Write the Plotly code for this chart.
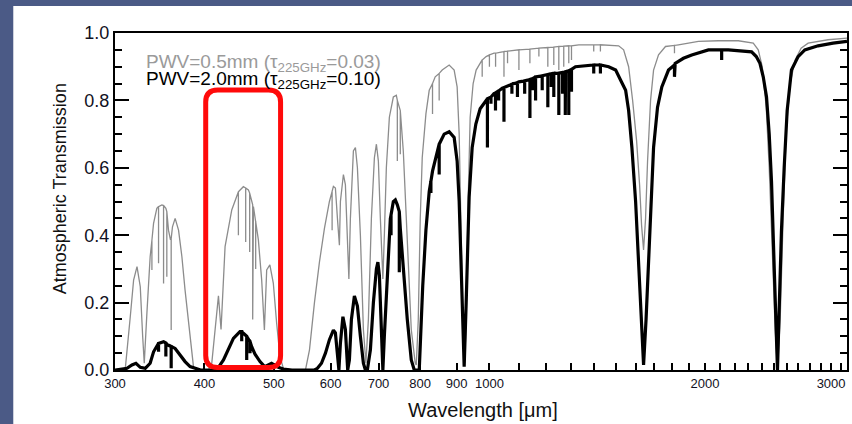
import math
import plotly.graph_objects as go

# ---- Atmospheric transmission, wavelength in micrometres ----
# Continuum envelope for PWV = 0.5 mm
PWV05_WL = [
    300.0, 310.1, 315.1, 318.5, 322.0, 325.4, 327.9, 329.6, 332.4, 335.9,
    339.6, 343.2, 348.8, 353.3, 356.3, 358.6, 360.9, 364.0, 368.0, 372.0,
    375.8, 381.3, 386.1, 390.0, 405.0, 409.5, 418.4, 421.9, 427.4, 436.7,
    446.1, 453.3, 460.7, 468.2, 475.7, 480.8, 485.0, 488.6, 493.6, 499.1,
    504.5, 509.9, 515.5, 530.0, 553.5, 560.7, 569.7, 578.9, 588.3, 597.8,
    605.5, 609.4, 613.4, 617.3, 619.3, 625.3, 629.3, 633.4, 636.4, 639.5,
    645.7, 649.9, 654.1, 660.4, 666.8, 672.2, 677.6, 684.2, 690.8, 695.3,
    699.7, 704.2, 709.9, 713.3, 717.9, 724.9, 734.2, 741.3, 748.4, 758.1,
    767.9, 777.8, 787.8, 790.4, 795.5, 800.6, 805.7, 815.3, 824.0, 840.0,
    859.1, 878.6, 892.8, 901.4, 907.3, 913.1, 919.0, 923.5, 928.0, 933.9,
    939.9, 949.0, 958.2, 973.7, 989.5, 1014.8, 1047.9, 1099.5, 1172.4, 1250.0,
    1332.8, 1421.1, 1515.2, 1539.7, 1564.6, 1584.8, 1605.2, 1620.7, 1631.1, 1641.6,
    1652.2, 1662.8, 1678.9, 1695.2, 1722.5, 1761.6, 1836.5, 1958.2, 2087.9, 2226.2,
    2335.9, 2373.6, 2404.3, 2435.3, 2458.8, 2482.6, 2506.6, 2525.1, 2547.1, 2571.7,
    2596.6, 2630.1, 2672.6, 2724.5, 2786.4, 2971.0, 3157.6,
]
PWV05_T = [
    0.0, 0.005, 0.158, 0.267, 0.307, 0.247, 0.10, 0.02, 0.168, 0.336,
    0.435, 0.48, 0.49, 0.48, 0.415, 0.386, 0.425, 0.45, 0.415, 0.336,
    0.237, 0.119, 0.01, 0.0, 0.0, 0.02, 0.22, 0.12, 0.366, 0.475,
    0.529, 0.544, 0.534, 0.485, 0.386, 0.267, 0.119, 0.297, 0.312, 0.258,
    0.139, 0.04, 0.005, 0.0, 0.0, 0.06, 0.20, 0.32, 0.42, 0.50,
    0.545, 0.54, 0.45, 0.37, 0.50, 0.58, 0.55, 0.35, 0.27, 0.45,
    0.65, 0.66, 0.60, 0.40, 0.12, 0.02, 0.15, 0.45, 0.63, 0.67,
    0.62, 0.45, 0.27, 0.40, 0.60, 0.75, 0.81, 0.815, 0.78, 0.65,
    0.40, 0.12, 0.02, 0.015, 0.15, 0.45, 0.63, 0.76, 0.83, 0.87,
    0.89, 0.905, 0.89, 0.84, 0.70, 0.40, 0.10, 0.02, 0.15, 0.50,
    0.75, 0.85, 0.89, 0.915, 0.93, 0.94, 0.945, 0.95, 0.955, 0.96,
    0.965, 0.965, 0.962, 0.95, 0.90, 0.80, 0.68, 0.55, 0.43, 0.356,
    0.45, 0.62, 0.80, 0.89, 0.935, 0.96, 0.965, 0.975, 0.977, 0.977,
    0.97, 0.95, 0.90, 0.78, 0.60, 0.35, 0.12, 0.0, 0.15, 0.45,
    0.71, 0.85, 0.92, 0.955, 0.97, 0.98, 0.985,
]
# Narrow absorption lines for PWV = 0.5 mm: centre, level beside line, level at line
PWV05_LINE_WL = [
    337.8, 345.1, 350.7, 354.4, 359.4, 446.1, 456.7, 462.6, 467.1, 471.6,
    603.0, 743.7, 750.8, 832.8, 850.8, 977.0, 1000.0, 1020.0, 1047.9, 1060.0,
    1099.5, 1139.0, 1172.4, 1206.6, 1230.0, 1250.0, 1270.0, 1290.7, 1302.0, 1398.5,
    1428.9, 1813.1,
]
PWV05_LINE_TOP = [
    0.385, 0.485, 0.488, 0.47, 0.39, 0.529, 0.54, 0.525, 0.49, 0.44,
    0.53, 0.80, 0.77, 0.85, 0.88, 0.92, 0.935, 0.94, 0.945, 0.946,
    0.95, 0.952, 0.955, 0.957, 0.958, 0.96, 0.961, 0.962, 0.962, 0.965,
    0.965, 0.963,
]
PWV05_LINE_DEPTH = [
    0.297, 0.317, 0.257, 0.277, 0.119, 0.40, 0.38, 0.35, 0.15, 0.30,
    0.415, 0.62, 0.64, 0.76, 0.80, 0.87, 0.90, 0.90, 0.87, 0.91,
    0.89, 0.91, 0.93, 0.90, 0.905, 0.89, 0.90, 0.91, 0.92, 0.945,
    0.945, 0.94,
]

# Continuum envelope for PWV = 2.0 mm
PWV20_WL = [
    300.0, 311.8, 316.8, 320.9, 325.4, 330.7, 335.9, 339.6, 345.1, 350.7,
    355.6, 364.0, 369.9, 375.8, 381.9, 388.1, 395.0, 410.0, 418.4, 425.2,
    432.1, 439.0, 448.4, 453.3, 461.6, 465.6, 470.6, 478.2, 485.4, 496.3,
    507.2, 515.5, 530.0, 569.7, 575.2, 582.7, 590.2, 597.8, 605.5, 609.4,
    613.4, 616.3, 619.3, 624.3, 629.3, 634.0, 637.5, 641.6, 647.8, 654.1,
    660.4, 666.8, 671.1, 675.4, 682.0, 688.6, 695.3, 698.6, 702.0, 706.5,
    709.9, 713.3, 720.2, 727.2, 734.2, 738.9, 743.7, 750.8, 758.1, 767.9,
    777.8, 785.3, 798.0, 807.0, 815.3, 824.0, 832.8, 850.8, 864.6, 878.6,
    892.8, 901.4, 907.3, 913.1, 919.0, 922.0, 928.0, 936.9, 946.0, 957.3,
    970.6, 988.5, 1014.8, 1042.2, 1099.5, 1160.0, 1230.0, 1277.1, 1318.8, 1389.5,
    1467.4, 1500.7, 1525.0, 1549.6, 1564.6, 1581.2, 1600.1, 1615.5, 1628.5, 1641.6,
    1654.8, 1668.1, 1681.6, 1695.2, 1717.0, 1740.8, 1778.6, 1817.2, 1866.2, 1916.6,
    2022.0, 2155.9, 2323.2, 2358.5, 2386.6, 2412.0, 2437.6, 2458.8, 2477.0, 2490.5,
    2504.2, 2514.6, 2525.1, 2538.9, 2557.7, 2580.0, 2604.9, 2641.1, 2698.4, 2757.0,
    2877.2, 3019.1, 3157.6,
]
PWV20_T = [
    0.0, 0.005, 0.015, 0.02, 0.008, 0.005, 0.02, 0.054, 0.079, 0.084,
    0.074, 0.064, 0.045, 0.025, 0.01, 0.005, 0.0, 0.0, 0.008, 0.03,
    0.064, 0.094, 0.114, 0.109, 0.089, 0.069, 0.047, 0.025, 0.01, 0.02,
    0.008, 0.003, 0.0, 0.0, 0.005, 0.02, 0.05, 0.09, 0.118, 0.11,
    0.05, 0.0, 0.08, 0.158, 0.12, 0.0, 0.03, 0.15, 0.22, 0.19,
    0.10, 0.02, 0.0, 0.0, 0.06, 0.20, 0.30, 0.32, 0.28, 0.10,
    0.0, 0.10, 0.30, 0.45, 0.50, 0.505, 0.49, 0.42, 0.30, 0.15,
    0.03, 0.0, 0.0, 0.25, 0.415, 0.53, 0.59, 0.67, 0.70, 0.707,
    0.69, 0.62, 0.50, 0.30, 0.08, 0.01, 0.20, 0.514, 0.66, 0.73,
    0.775, 0.80, 0.82, 0.836, 0.855, 0.87, 0.88, 0.885, 0.90, 0.905,
    0.90, 0.89, 0.86, 0.83, 0.77, 0.66, 0.50, 0.317, 0.15, 0.015,
    0.15, 0.317, 0.50, 0.66, 0.78, 0.84, 0.89, 0.91, 0.925, 0.935,
    0.95, 0.95, 0.944, 0.93, 0.91, 0.87, 0.81, 0.70, 0.56, 0.40,
    0.22, 0.08, 0.0, 0.18, 0.415, 0.60, 0.77, 0.89, 0.93, 0.95,
    0.962, 0.97, 0.975,
]
# Narrow absorption lines for PWV = 2.0 mm
PWV20_LINE_WL = [
    345.1, 353.3, 359.4, 450.9, 458.2, 463.1, 728.8, 748.4, 828.5, 850.8,
    993.6, 1005.0, 1019.7, 1030.0, 1047.9, 1075.0, 1094.3, 1120.0, 1139.1, 1150.0,
    1160.0, 1185.0, 1206.6, 1220.0, 1230.0, 1250.0, 1265.0, 1276.3, 1290.7, 1302.0,
    1398.5, 1428.9, 1813.1, 2110.1,
]
PWV20_LINE_TOP = [
    0.079, 0.08, 0.07, 0.114, 0.10, 0.085, 0.46, 0.47, 0.56, 0.67,
    0.805, 0.81, 0.822, 0.828, 0.838, 0.848, 0.853, 0.858, 0.862, 0.865,
    0.87, 0.873, 0.877, 0.879, 0.88, 0.881, 0.883, 0.885, 0.888, 0.892,
    0.905, 0.905, 0.905, 0.95,
]
PWV20_LINE_DEPTH = [
    0.054, 0.04, 0.005, 0.085, 0.03, 0.05, 0.40, 0.29, 0.525, 0.58,
    0.66, 0.79, 0.77, 0.80, 0.737, 0.82, 0.81, 0.82, 0.748, 0.83,
    0.80, 0.83, 0.78, 0.84, 0.81, 0.757, 0.82, 0.757, 0.757, 0.826,
    0.88, 0.88, 0.87, 0.92,
]

# ---- Axes ----
X_RANGE = [300.0, 3157.6]
Y_RANGE = [0.0, 1.0]
X_MAJOR = [300, 400, 500, 600, 700, 800, 900, 1000, 2000, 3000]
X_MAJOR_LABELS = ["300", "400", "500", "600", "700", "800", "900", "1000", "2000", "3000"]
X_MINOR = [1100, 1200, 1300, 1400, 1500, 1600, 1700, 1800, 1900,
           2100, 2200, 2300, 2400, 2500, 2600, 2700, 2800, 2900, 3100]
Y_MAJOR = [0.0, 0.2, 0.4, 0.6, 0.8, 1.0]
Y_MAJOR_LABELS = ["0.0", "0.2", "0.4", "0.6", "0.8", "1.0"]
Y_MINOR = [0.05, 0.1, 0.15, 0.25, 0.3, 0.35, 0.45, 0.5, 0.55,
           0.65, 0.7, 0.75, 0.85, 0.9, 0.95]

# Highlighted 400-500 µm window (wavelength span, transmission span)
WINDOW_WL = [401.6, 510.9]
WINDOW_T = [0.0074, 0.831]

FONT = "Liberation Sans, Arial, Helvetica, sans-serif"
W, H = 852, 424
ML, MR, MT, MB = 115, 3, 33, 54
PW, PH = W - ML - MR, H - MT - MB


def with_lines(wl, t, line_wl, line_top, line_depth):
    """Merge the continuum with vertical absorption-line strokes, sorted by wavelength."""
    pts = [(w, 0, v) for w, v in zip(wl, t)]
    for w, top, low in zip(line_wl, line_top, line_depth):
        pts += [(w, 1, top), (w, 2, low), (w, 3, top)]
    pts.sort(key=lambda p: (p[0], p[1]))
    return [p[0] for p in pts], [p[2] for p in pts]


x05, y05 = with_lines(PWV05_WL, PWV05_T, PWV05_LINE_WL, PWV05_LINE_TOP, PWV05_LINE_DEPTH)
x20, y20 = with_lines(PWV20_WL, PWV20_T, PWV20_LINE_WL, PWV20_LINE_TOP, PWV20_LINE_DEPTH)

fig = go.Figure()
fig.add_trace(go.Scatter(
    x=x05, y=y05, mode="lines",
    line=dict(color="#8c8c8c", width=1.3), showlegend=False, hoverinfo="skip",
))
fig.add_trace(go.Scatter(
    x=x20, y=y20, mode="lines",
    line=dict(color="#000000", width=3.2), showlegend=False, hoverinfo="skip",
))


def to_paper_x(wl):
    lo, hi = math.log10(X_RANGE[0]), math.log10(X_RANGE[1])
    return (math.log10(wl) - lo) / (hi - lo)


def to_paper_y(t):
    return (t - Y_RANGE[0]) / (Y_RANGE[1] - Y_RANGE[0])


def rounded_rect(x0, x1, y0, y1, r_px):
    rx, ry = r_px / PW, r_px / PH
    return (
        f"M {x0 + rx},{y0} L {x1 - rx},{y0} Q {x1},{y0} {x1},{y0 + ry} "
        f"L {x1},{y1 - ry} Q {x1},{y1} {x1 - rx},{y1} "
        f"L {x0 + rx},{y1} Q {x0},{y1} {x0},{y1 - ry} "
        f"L {x0},{y0 + ry} Q {x0},{y0} {x0 + rx},{y0} Z"
    )


shapes = [
    # white slide panel on the blue backdrop
    dict(type="rect", xref="paper", yref="paper", layer="below",
         x0=-(ML - 13) / PW, x1=1.02, y0=-(MB + 5) / PH, y1=(PH + MT - 6) / PH,
         fillcolor="white", line=dict(width=0)),
    # red highlight around the 450 µm window
    dict(type="path", xref="paper", yref="paper", layer="above",
         path=rounded_rect(to_paper_x(WINDOW_WL[0]), to_paper_x(WINDOW_WL[1]),
                           to_paper_y(WINDOW_T[0]), to_paper_y(WINDOW_T[1]), 12),
         line=dict(color="#ff0a0a", width=5)),
]

annotations = [
    dict(text="PWV=0.5mm (τ<sub>225GHz</sub>=0.03)", xref="paper", yref="paper",
         x=29 / PW, y=(PH - 30) / PH, xanchor="left", yanchor="middle",
         showarrow=False, font=dict(family=FONT, size=19, color="#9a9a9a")),
    dict(text="PWV=2.0mm (τ<sub>225GHz</sub>=0.10)", xref="paper", yref="paper",
         x=29 / PW, y=(PH - 47) / PH, xanchor="left", yanchor="middle",
         showarrow=False, font=dict(family=FONT, size=19, color="#000000")),
    dict(text="Atmospheric Transmission", xref="paper", yref="paper",
         x=-55 / PW, y=0.537, textangle=-90, xanchor="center", yanchor="middle",
         showarrow=False, font=dict(family=FONT, size=18, color="#111111")),
    dict(text="Wavelength [μm]", xref="paper", yref="paper",
         x=0.503, y=-40 / PH, xanchor="center", yanchor="middle",
         showarrow=False, font=dict(family=FONT, size=20, color="#111111")),
]

fig.update_layout(
    width=W, height=H, autosize=False,
    margin=dict(l=ML, r=MR, t=MT, b=MB, pad=0),
    paper_bgcolor="#4b5a86", plot_bgcolor="white",
    shapes=shapes, annotations=annotations, showlegend=False,
    xaxis=dict(
        type="log", range=[math.log10(X_RANGE[0]), math.log10(X_RANGE[1])],
        tickvals=X_MAJOR + X_MINOR,
        ticktext=X_MAJOR_LABELS + [""] * len(X_MINOR),
        ticks="inside", ticklen=7, tickwidth=1.5, tickcolor="black",
        showline=True, linewidth=2, linecolor="black", mirror=True,
        showgrid=False, zeroline=False,
        tickfont=dict(family=FONT, size=13, color="#111122"),
    ),
    xaxis2=dict(
        type="log", range=[math.log10(X_RANGE[0]), math.log10(X_RANGE[1])],
        overlaying="x", side="top", anchor="y",
        tickvals=X_MAJOR, ticks="inside", ticklen=6, tickwidth=1.5,
        tickcolor="black", showticklabels=False, showline=False,
        showgrid=False, zeroline=False,
    ),
    yaxis=dict(
        range=Y_RANGE, tickvals=Y_MAJOR, ticktext=Y_MAJOR_LABELS,
        ticks="inside", ticklen=14, tickwidth=1.5, tickcolor="black",
        minor=dict(tickvals=Y_MINOR, ticks="inside", ticklen=7,
                   tickwidth=1.5, tickcolor="black", showgrid=False),
        showline=True, linewidth=2, linecolor="black", mirror="ticks",
        showgrid=False, zeroline=False,
        tickfont=dict(family=FONT, size=18, color="#111122"),
    ),
)

fig.write_html("out.html")
